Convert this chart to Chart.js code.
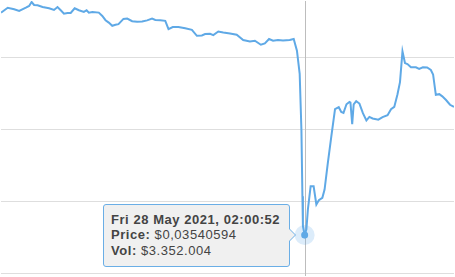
<!DOCTYPE html>
<html>
<head>
<meta charset="utf-8">
<script src="https://cdn.jsdelivr.net/npm/chart.js@4.4.1/dist/chart.umd.min.js"></script>
<style>
  html, body { margin: 0; padding: 0; background: #fff; overflow: hidden; }
  #wrap { position: relative; width: 455px; height: 277px; }
  #tip {
    position: absolute; box-sizing: border-box; padding: 7px 9px 8px 7px;
    background: #f0f0f0; border: 1px solid #6aaee6; border-radius: 3px;
    font: 13px "Liberation Sans", Arial, sans-serif; color: #444; line-height: 15.5px;
    letter-spacing: 0.55px; white-space: nowrap; display: none;
  }
  #tip b { font-weight: bold; }
  #tip .caret, #tip .caret2 {
    position: absolute; top: 50%; width: 0; height: 0; border-style: solid;
  }
  #tip .caret { right: -7px; margin-top: -7px; border-width: 7px 0 7px 7px; border-color: transparent transparent transparent #6aaee6; }
  #tip .caret2 { right: -6px; margin-top: -6px; border-width: 6px 0 6px 6px; border-color: transparent transparent transparent #f0f0f0; }
</style>
</head>
<body>
<div id="wrap">
  <canvas id="chart" width="455" height="277"></canvas>
  <div id="tip"></div>
</div>
<script>
// hours since start of the visible range
const hours = [0, 2.7, 5.3, 7.3, 10, 11.3, 12.3, 13.3, 14.7, 16.7, 19.3, 21.3, 22.7, 24, 25.3, 26.7, 28, 29.6, 31.3, 33.3,
  34.4, 35.3, 36.7, 39.3, 40.7, 42, 43.3, 44.7, 46, 47.2, 49.2, 50.7, 52.7, 54.7, 56.7, 58.7, 60.7, 62, 64, 66,
  67.3, 69, 71.3, 74, 76.7, 78.7, 80.7, 82, 84, 85.3, 87.3, 89.3, 92, 94.7, 97.3, 100, 102, 104.4, 106, 107.7,
  109.3, 111.3, 113.3, 116, 117.6, 118.9, 120, 120.7, 121.1, 121.3, 122, 122.7, 123.3, 124.4, 125.6, 126.7, 127.7, 129.1, 130, 131.3,
  132.7, 134.2, 135.7, 136.7, 137.6, 138.8, 140, 140.4, 141.1, 141.7, 142.7, 144, 145.4, 146.8, 148, 149.3, 151.6, 153.3, 155.3, 156.7,
  158, 159.3, 160.3, 161.3, 162.3, 163.3, 164.7, 166.7, 168, 169.5, 171.2, 172.7, 173.6, 174.7, 176.1, 177.3, 178.8, 180.4, 182];

// price in USD
const prices = [0.06622, 0.06690, 0.06669, 0.06645, 0.06690, 0.06714, 0.06769, 0.06728, 0.06724, 0.06700, 0.06682, 0.06659, 0.06700, 0.06655, 0.06608, 0.06618, 0.06618, 0.06682, 0.06655, 0.06631,
  0.06655, 0.06622, 0.06631, 0.06622, 0.06576, 0.06517, 0.06484, 0.06439, 0.06453, 0.06462, 0.06535, 0.06539, 0.06503, 0.06494, 0.06498, 0.06514, 0.06539, 0.06521, 0.06517, 0.06508,
  0.06393, 0.06421, 0.06421, 0.06404, 0.06384, 0.06301, 0.06305, 0.06325, 0.06329, 0.06311, 0.06360, 0.06347, 0.06333, 0.06315, 0.06242, 0.06223, 0.06232, 0.06177, 0.06195, 0.06256,
  0.06232, 0.06242, 0.06237, 0.06242, 0.06256, 0.06095, 0.05774, 0.04995, 0.04077, 0.03664, 0.03540594, 0.03619, 0.03894, 0.04215, 0.04215, 0.03963, 0.04022, 0.04055, 0.04169, 0.04536,
  0.04902, 0.05283, 0.05311, 0.05246, 0.05232, 0.05352, 0.05384, 0.05376, 0.05077, 0.05352, 0.05396, 0.05362, 0.05228, 0.05128, 0.05177, 0.05155, 0.05139, 0.05173, 0.05201, 0.05283,
  0.05315, 0.05490, 0.05659, 0.06085, 0.05923, 0.05909, 0.05865, 0.05865, 0.05843, 0.05865, 0.05861, 0.05827, 0.05765, 0.05483, 0.05492, 0.05462, 0.05411, 0.05345, 0.05315];

const yTicks = [0.03, 0.04, 0.05, 0.06];

// the hovered point
const activeIndex = 70;
const activeTime = 'Fri 28 May 2021, 02:00:52';
const activeVol = 3352004;

const lineColor = '#5fa9e6';

function fmtPrice(v) {
  return '$' + v.toFixed(8).replace('.', ',');
}
function fmtVol(v) {
  return '$' + String(Math.round(v)).replace(/\B(?=(\d{3})+(?!\d))/g, '.');
}

const tip = document.getElementById('tip');

function externalTip(context) {
  const t = context.tooltip;
  if (!t || t.opacity === 0 || !t.dataPoints || !t.dataPoints.length) { tip.style.display = 'none'; return; }
  const i = t.dataPoints[0].dataIndex;
  tip.innerHTML = '<b>' + activeTime + '</b><br><b>Price:</b> ' + fmtPrice(prices[i]) +
    '<br><b>Vol:</b> ' + fmtVol(activeVol) + '<span class="caret"></span><span class="caret2"></span>';
  tip.style.display = 'block';
  const el = t.dataPoints[0].element;
  const w = tip.offsetWidth, h = tip.offsetHeight;
  tip.style.left = (el.x - 15 - w) + 'px';
  tip.style.top = (el.y - h / 2) + 'px';
}

const hoverPlugin = {
  id: 'hoverMarks',
  beforeDatasetsDraw(chart) {
    const act = chart.getActiveElements();
    if (!act.length) return;
    const p = act[0].element;
    const ctx = chart.ctx;
    const a = chart.chartArea;
    ctx.save();
    ctx.strokeStyle = '#bdbdbd';
    ctx.lineWidth = 1;
    ctx.beginPath();
    ctx.moveTo(Math.round(p.x) + 0.5, a.top);
    ctx.lineTo(Math.round(p.x) + 0.5, a.bottom);
    ctx.stroke();
    ctx.fillStyle = 'rgba(95,169,230,0.22)';
    ctx.beginPath();
    ctx.arc(p.x, p.y, 10, 0, Math.PI * 2);
    ctx.fill();
    ctx.restore();
  }
};

const chart = new Chart(document.getElementById('chart'), {
  type: 'line',
  data: {
    datasets: [{
      data: hours.map((h, i) => ({ x: h, y: prices[i] })),
      borderColor: lineColor,
      borderWidth: 2,
      pointRadius: 0,
      pointHoverRadius: 3.5,
      pointHoverBorderWidth: 0,
      pointHoverBackgroundColor: lineColor,
      tension: 0,
      fill: false
    }]
  },
  options: {
    responsive: false,
    animation: false,
    events: [],
    layout: { padding: 0 },
    plugins: {
      legend: { display: false },
      tooltip: { enabled: false, external: externalTip, mode: 'index', intersect: false }
    },
    scales: {
      x: { type: 'linear', display: false, min: 0, max: 182 },
      y: {
        min: 0.02972, max: 0.06783,
        afterBuildTicks: s => { s.ticks = yTicks.map(v => ({ value: v })); },
        ticks: { display: false },
        border: { display: false },
        grid: { color: '#dedede', lineWidth: 1, drawTicks: false }
      }
    }
  },
  plugins: [hoverPlugin]
});

const pt = chart.getDatasetMeta(0).data[activeIndex];
chart.setActiveElements([{ datasetIndex: 0, index: activeIndex }]);
chart.tooltip.setActiveElements([{ datasetIndex: 0, index: activeIndex }], { x: pt.x, y: pt.y });
chart.update();
</script>
</body>
</html>
